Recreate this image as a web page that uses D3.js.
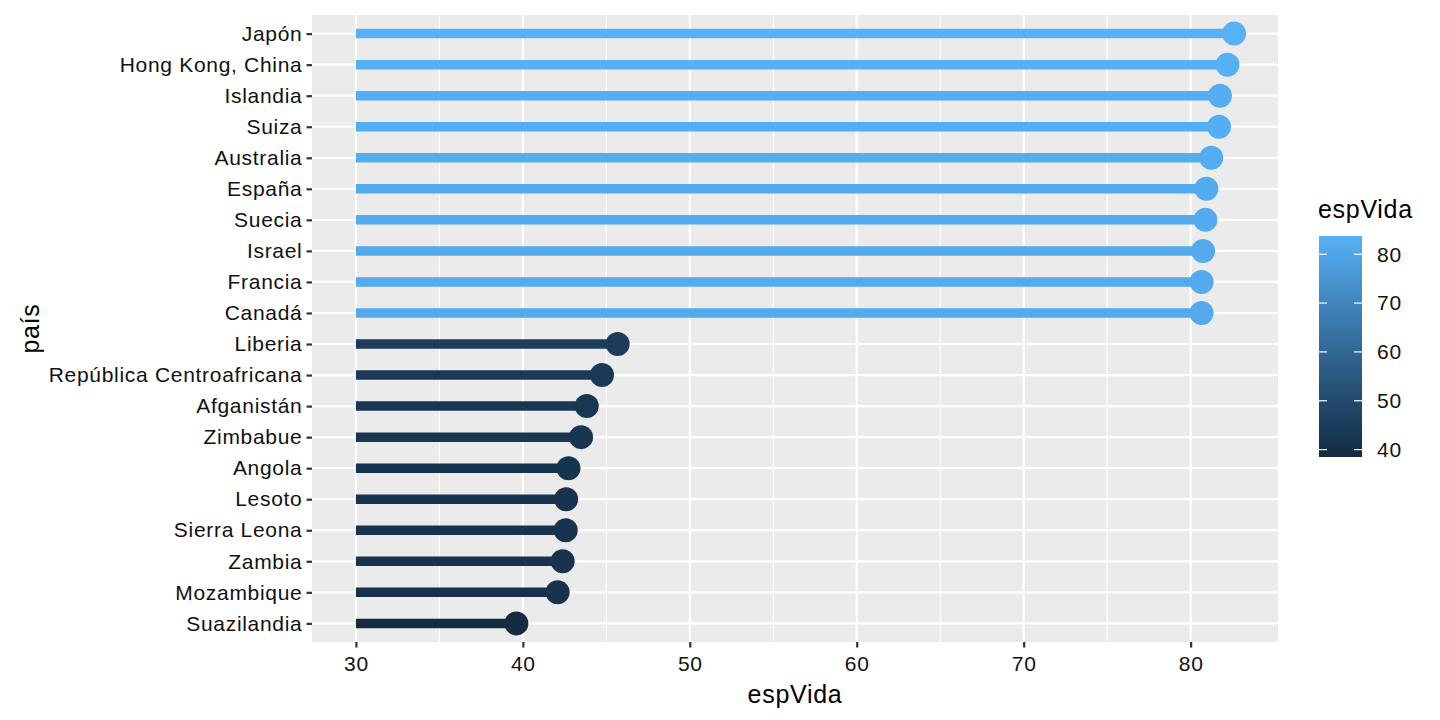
<!DOCTYPE html>
<html>
<head>
<meta charset="utf-8">
<script src="https://cdn.jsdelivr.net/npm/d3@7"></script>
<style>
  body { margin: 0; background: #fff; }
  svg text { font-family: "Liberation Sans", Arial, sans-serif; letter-spacing: 0.7px; }
</style>
</head>
<body>
<div id="chart"></div>
<script>
// countries top to bottom, life expectancy (gapminder 2007)
const paises = ["Japón", "Hong Kong, China", "Islandia", "Suiza", "Australia", "España",
  "Suecia", "Israel", "Francia", "Canadá", "Liberia", "República Centroafricana",
  "Afganistán", "Zimbabue", "Angola", "Lesoto", "Sierra Leona", "Zambia", "Mozambique", "Suazilandia"];
const espVida = [82.603, 82.208, 81.757, 81.701, 81.235, 80.941, 80.884, 80.745, 80.657, 80.653,
  45.678, 44.741, 43.828, 43.487, 42.731, 42.592, 42.568, 42.384, 42.082, 39.613];
const xTicks = [30, 40, 50, 60, 70, 80];
const xMinor = [35, 45, 55, 65, 75];
const legendTicks = [40, 50, 60, 70, 80];
const baseValue = 30;

const data = paises.map((p, i) => ({pais: p, valor: espVida[i]}));

const W = 1440, H = 720;
const margin = {top: 15, right: 162, bottom: 78, left: 312},
      width = W - margin.left - margin.right,
      height = H - margin.top - margin.bottom;

const svg = d3.select("#chart")
  .append("svg")
    .attr("width", W)
    .attr("height", H);

const g = svg.append("g")
    .attr("transform", `translate(${margin.left},${margin.top})`);

// ggplot style 5% expansion
const lo = baseValue, hi = d3.max(espVida);
const pad = (hi - lo) * 0.05;
const x = d3.scaleLinear()
    .domain([lo - pad, hi + pad])
    .range([0, width]);

const y = d3.scalePoint()
    .domain(paises)
    .range([0, height])
    .padding(0.6);

const color = d3.scaleLinear()
    .domain(d3.extent(espVida))
    .range(["#132B43", "#56B1F7"])
    .interpolate(d3.interpolateLab);

// panel
g.append("rect")
    .attr("width", width)
    .attr("height", height)
    .attr("fill", "#EBEBEB");

g.selectAll(".minor")
  .data(xMinor)
  .join("line")
    .attr("x1", d => x(d)).attr("x2", d => x(d))
    .attr("y1", 0).attr("y2", height)
    .attr("stroke", "#fff").attr("stroke-width", 1.1);

g.selectAll(".major")
  .data(xTicks)
  .join("line")
    .attr("x1", d => x(d)).attr("x2", d => x(d))
    .attr("y1", 0).attr("y2", height)
    .attr("stroke", "#fff").attr("stroke-width", 2.2);

g.selectAll(".hgrid")
  .data(paises)
  .join("line")
    .attr("x1", 0).attr("x2", width)
    .attr("y1", d => y(d)).attr("y2", d => y(d))
    .attr("stroke", "#fff").attr("stroke-width", 2.2);

// lollipops
g.selectAll(".seg")
  .data(data)
  .join("line")
    .attr("x1", x(baseValue))
    .attr("x2", d => x(d.valor))
    .attr("y1", d => y(d.pais))
    .attr("y2", d => y(d.pais))
    .attr("stroke", d => color(d.valor))
    .attr("stroke-width", 9.5);

g.selectAll(".dot")
  .data(data)
  .join("circle")
    .attr("cx", d => x(d.valor))
    .attr("cy", d => y(d.pais))
    .attr("r", 12)
    .attr("fill", d => color(d.valor));

// axes
const xAxis = g.append("g")
    .attr("transform", `translate(0,${height})`)
    .call(d3.axisBottom(x).tickValues(xTicks).tickSize(5.5).tickPadding(4));
const yAxis = g.append("g")
    .call(d3.axisLeft(y).tickSize(5.5).tickPadding(4));

[xAxis, yAxis].forEach(a => {
  a.select(".domain").remove();
  a.selectAll(".tick line").attr("stroke", "#333").attr("stroke-width", 2.2);
  a.selectAll(".tick text")
    .attr("fill", "#111")
    .style("font-size", "21px");
});
xAxis.selectAll(".tick text").attr("dy", "0.95em");

// axis titles
svg.append("text")
    .attr("x", margin.left + width / 2)
    .attr("y", 703)
    .attr("text-anchor", "middle")
    .attr("fill", "#000")
    .style("font-size", "25px")
    .text("espVida");

svg.append("text")
    .attr("transform", `translate(39,${margin.top + height / 2}) rotate(-90)`)
    .attr("text-anchor", "middle")
    .attr("fill", "#000")
    .style("font-size", "25px")
    .text("país");

// colourbar legend
const leg = svg.append("g").attr("transform", "translate(1319,236)");
const barW = 43, barH = 221, nbin = 20;
leg.append("text")
    .attr("x", -1)
    .attr("y", -18)
    .attr("fill", "#000")
    .style("font-size", "25px")
    .text("espVida");

const grad = svg.append("defs").append("linearGradient")
    .attr("id", "cbar")
    .attr("x1", 0).attr("y1", 1).attr("x2", 0).attr("y2", 0);
const ext = d3.extent(espVida);
d3.range(0, 11).forEach(i => {
  const t = i / 10;
  grad.append("stop")
    .attr("offset", t)
    .attr("stop-color", color(ext[0] + t * (ext[1] - ext[0])));
});
leg.append("rect")
    .attr("width", barW)
    .attr("height", barH)
    .attr("fill", "url(#cbar)");

const ly = d3.scaleLinear()
    .domain(ext)
    .range([barH * (1 - 0.5 / nbin), barH * 0.5 / nbin]);

leg.selectAll(".lt")
  .data(legendTicks)
  .join("g")
    .each(function(d) {
      const s = d3.select(this);
      s.append("line").attr("x1", 0).attr("x2", 8)
        .attr("y1", ly(d)).attr("y2", ly(d))
        .attr("stroke", "#fff").attr("stroke-width", 1.2);
      s.append("line").attr("x1", barW - 8).attr("x2", barW)
        .attr("y1", ly(d)).attr("y2", ly(d))
        .attr("stroke", "#fff").attr("stroke-width", 1.2);
      s.append("text")
        .attr("x", barW + 15)
        .attr("y", ly(d))
        .attr("dy", "0.35em")
        .attr("fill", "#111")
        .style("font-size", "21px")
        .text(d);
    });
</script>
</body>
</html>
